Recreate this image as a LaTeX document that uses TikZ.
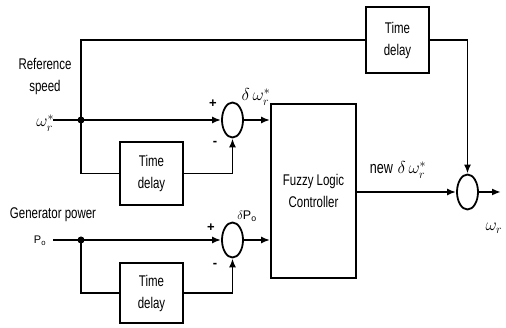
\documentclass[tikz,border=0pt]{standalone}
\usepackage{fontspec}
\setmainfont{Liberation Sans}
\newfontfamily\cond[FakeStretch=0.74]{Liberation Sans}
\usetikzlibrary{arrows.meta,shapes.geometric}
\begin{document}
\begin{tikzpicture}[x=1pt,y=-1pt,line width=1.8pt,
  blk/.style={draw,minimum width=63pt,minimum height=63pt,inner sep=0pt,align=center,font=\cond\fontsize{15.5}{22}\selectfont},
  sumj/.style={draw,ellipse,minimum width=21pt,minimum height=35pt,inner sep=0pt},
  arr/.style={-{Latex[length=9pt,width=7pt]}},
  jdot/.style={circle,fill,inner sep=0pt,minimum size=7pt},
  lbl/.style={font=\cond\fontsize{15.5}{22}\selectfont,inner sep=0pt,align=center},
  mlbl/.style={font=\fontsize{17}{18}\selectfont,inner sep=0pt},
  sgn/.style={font=\bfseries\fontsize{13}{13}\selectfont,inner sep=0pt}]
\useasboundingbox (0,0) rectangle (506,328);
% blocks
\node[blk,minimum height=66pt] (td0) at (397.5,40) {Time\\delay};
\node[blk] (td1) at (151.5,173.5) {Time\\delay};
\node[blk,minimum height=60pt] (td2) at (151.5,293) {Time\\delay};
\node[draw,minimum width=85pt,minimum height=174pt,inner sep=0pt,align=center,font=\cond\fontsize{15.5}{22}\selectfont] (flc) at (313.5,191) {Fuzzy Logic\\Controller};
% summing junctions
\node[sumj] (s1) at (232.5,120) {};
\node[sumj] (s2) at (232.5,240) {};
\node[sumj] (s3) at (467.5,192) {};
% junction dots and free ends
\node[jdot] (j1) at (81,120) {};
\node[jdot] (j2) at (81,240) {};
\coordinate (in1) at (53,120);
\coordinate (in2) at (53,240);
\coordinate (out) at (501,192);
% connectors
\draw[arr] (in1) -- (s1.west);
\draw[arr] (in2) -- (s2.west);
\draw (j1.center) |- (td0.west);
\draw[arr] (td0.east) -| (s3.north);
\draw (j1.center) |- (td1.west);
\draw[arr] (td1.east) -| (s1.south);
\draw (j2.center) |- (td2.west);
\draw[arr] (td2.east) -| (s2.south);
\draw[arr] (s1.east) -- (s1.east -| flc.west);
\draw[arr] (s2.east) -- (s2.east -| flc.west);
\draw[arr] (flc.east |- s3.west) -- (s3.west);
\draw[arr] (s3.east) -- (out);
% labels
\node[lbl] (lref) at (45,77) {Reference\\speed};
\node[lbl] (lgen) at (53,215) {Generator power};
\node[mlbl,anchor=base east] (lw) at (55,127) {$\omega_r^*$};
\node[mlbl,anchor=base east,font=\fontsize{11}{12}\selectfont] (lp) at (47,244) {P$_{\mathrm{o}}$};
\node[mlbl] (ldw) at (256,97) {$\delta\,\omega_r^*$};
\node[mlbl,font=\fontsize{12.5}{12}\selectfont] (ldp) at (247,216) {$\delta$P$_{\mathrm{o}}$};
\node[mlbl] (lnew) at (398,170) {{\cond new} $\delta\,\omega_r^*$};
\node[mlbl] (lout) at (494,228) {$\omega_r$};
\node[sgn] (p1) at (213,104) {+};
\node[sgn] (m1) at (215,143) {-};
\node[sgn] (p2) at (211,228) {+};
\node[sgn] (m2) at (215,265) {-};
\end{tikzpicture}
\end{document}
